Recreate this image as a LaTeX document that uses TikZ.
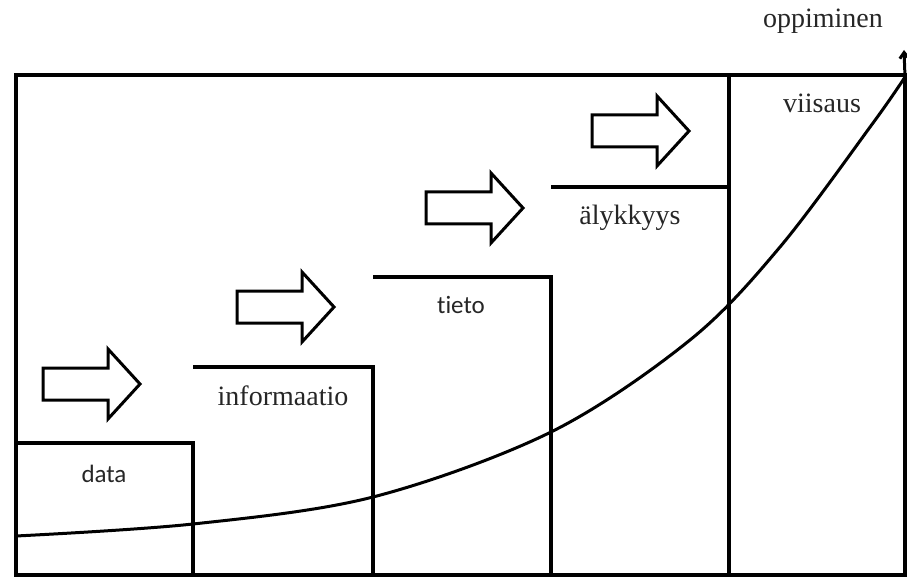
\documentclass[tikz,border=0pt]{standalone}
\usepackage{fontspec}
\setmainfont{Liberation Serif}
\newfontfamily\sansf[Ligatures=NoCommon]{Carlito}
\usetikzlibrary{arrows.meta}
\begin{document}
\begin{tikzpicture}[x=1pt,y=-1pt,
  frame/.style={line width=3.6pt,line join=miter},
  blockarrow/.style={line width=3pt,line join=miter,fill=white},
  curve/.style={line width=3pt,line join=round},
  serlabel/.style={anchor=base,inner sep=0pt,text=black!85,font=\fontsize{28}{30}\selectfont},
  sanslabel/.style={anchor=base,inner sep=0pt,text=black!85,font=\sansf\fontsize{25}{28}\selectfont}]
\useasboundingbox (0,0) rectangle (907,577);
% step boxes
\draw[frame] (16,75) rectangle (905,575);
\draw[frame] (16,443) -- (193,443) -- (193,575);
\draw[frame] (193,367) -- (373,367) -- (373,575);
\draw[frame] (373,277) -- (551,277) -- (551,575);
\draw[frame] (551,187) -- (729,187) -- (729,575);
\draw[frame] (729,75) -- (729,575);
% block arrows
\foreach \x/\y in {43/384, 237/307, 426/208, 592/131}{
  \draw[blockarrow] (\x,\y-16) -- ++(65,0) -- ++(0,-19) -- (\x+97,\y) -- (\x+65,\y+35) -- ++(0,-19) -- (\x,\y+16) -- cycle;
}
% labels
\node[sanslabel] (data) at (104,482) {data};
\node[serlabel] (info) at (283,405) {informaatio};
\node[sanslabel] (tieto) at (461,313) {tieto};
\node[serlabel] (aly) at (630,225) {älykkyys};
\node[serlabel] (viis) at (822,113) {viisaus};
\node[serlabel] (opp) at (823,28) {oppiminen};
% learning curve
\coordinate (c0) at (16,536);
\coordinate (ctop) at (904,50);
\draw[curve,-{Straight Barb[length=6pt,width=9pt]}] plot[smooth,tension=0.55] coordinates {(16,536) (193,524) (373,497) (551,432) (690,340) (780,247) (873,123) (905,77)} -- (ctop);
\end{tikzpicture}
\end{document}
